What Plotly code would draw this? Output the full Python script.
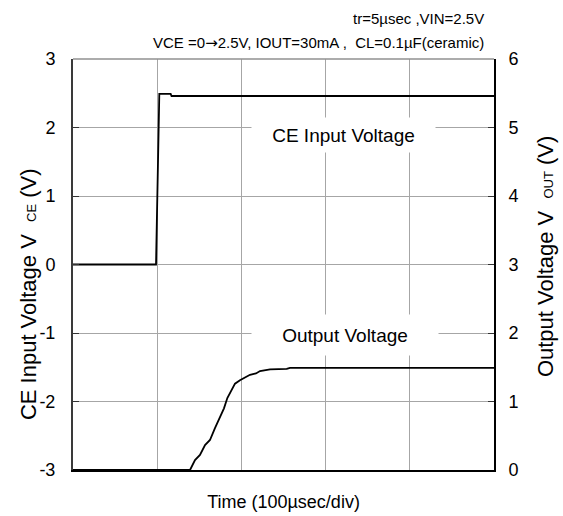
import plotly.graph_objects as go

# Time axis in microseconds (100 usec/div, 5 divisions)
ce_time = [0, 98.6, 102.5, 116, 117, 500]
ce_volt = [0, 0, 2.49, 2.49, 2.46, 2.46]

out_time = [0, 139, 144.9, 150.8, 156.8, 162.7, 168.6, 174.6, 179.3, 183.3, 188.5,
            192.4, 198.3, 204.3, 210.2, 217.3, 222.1, 234, 253.8, 257.7, 500]
out_volt = [0, 0, 0.146, 0.219, 0.365, 0.438, 0.61, 0.78, 0.90, 1.05, 1.17,
            1.26, 1.31, 1.35, 1.39, 1.41, 1.445, 1.47, 1.475, 1.49, 1.49]

x_grid = [100, 200, 300, 400]
left_ticks = [-3, -2, -1, 0, 1, 2, 3]
left_labels = ["-3", "-2", "-1", "0", "1", "2", "3"]
right_ticks = [0, 1, 2, 3, 4, 5, 6]
right_labels = ["0", "1", "2", "3", "4", "5", "6"]

FONT = "Liberation Sans, Arial, sans-serif"
GRID = "#a6a6a6"

fig = go.Figure()
fig.add_trace(go.Scatter(x=ce_time, y=ce_volt, mode="lines",
                         line=dict(color="black", width=1.8), yaxis="y", showlegend=False))
fig.add_trace(go.Scatter(x=out_time, y=out_volt, mode="lines",
                         line=dict(color="black", width=1.8), yaxis="y2", showlegend=False))

fig.update_layout(
    width=563, height=516,
    margin=dict(l=73, r=69, t=59, b=46, autoexpand=False),
    paper_bgcolor="white", plot_bgcolor="white",
    font=dict(family=FONT, color="black", size=16),
    xaxis=dict(range=[0, 500], tickvals=x_grid, showticklabels=False, ticks="",
               showgrid=True, gridcolor=GRID, gridwidth=1, zeroline=False,
               showline=True, linecolor="black", linewidth=2, automargin=False,
               title=dict(text="Time (100µsec/div)", font=dict(size=18), standoff=24)),
    yaxis=dict(range=[-3, 3], tickvals=left_ticks, ticktext=left_labels, ticks="inside",
               ticklen=6, tickcolor="#333", showgrid=True, gridcolor=GRID, gridwidth=1,
               zeroline=False, showline=True, linecolor="#3a3a3a", linewidth=2,
               tickfont=dict(size=18), ticklabelstandoff=12, automargin=False),
    yaxis2=dict(range=[0, 6], tickvals=right_ticks, ticktext=right_labels, ticks="inside",
                ticklen=6, tickcolor="#333", overlaying="y", side="right", showgrid=False,
                zeroline=False, showline=True, linecolor="black", linewidth=2,
                tickfont=dict(size=18), ticklabelstandoff=9, automargin=False),
    shapes=[dict(type="line", xref="paper", yref="paper", x0=0, x1=1, y0=1, y1=1,
                 line=dict(color="#909090", width=1.5))],
    annotations=[
        dict(text="tr=5µsec ,VIN=2.5V", xref="paper", yref="paper", x=0.98, y=1.0,
             yshift=41, xanchor="right", yanchor="middle", showarrow=False,
             font=dict(size=15)),
        dict(text="VCE =0<span style='font-family:DejaVu Sans'>→</span>2.5V, IOUT=30mA ,  CL=0.1µF(ceramic)",
             xref="paper", yref="paper",
             x=0.98, y=1.0, yshift=16, xanchor="right", yanchor="middle", showarrow=False,
             font=dict(size=15)),
        dict(text="CE Input Voltage V&nbsp;&nbsp;<span style='font-size:13px'>CE</span>&nbsp;(V)",
             xref="paper", yref="paper", x=0, xshift=-45, y=0.428, textangle=-90,
             xanchor="center", yanchor="middle", showarrow=False, font=dict(size=22)),
        dict(text="Output Voltage V&nbsp;&nbsp;<span style='font-size:13px'>OUT</span>&nbsp;(V)",
             xref="paper", yref="paper", x=1, xshift=51, y=0.518, textangle=-90,
             xanchor="center", yanchor="middle", showarrow=False, font=dict(size=22)),
        dict(text="CE Input Voltage", xref="paper", yref="paper", x=0.6425, y=0.815,
             xanchor="center", yanchor="middle", showarrow=False, bgcolor="white",
             width=183, height=34, borderpad=0, font=dict(size=19)),
        dict(text="Output Voltage", xref="paper", yref="paper", x=0.646, y=0.328,
             xanchor="center", yanchor="middle", showarrow=False, bgcolor="white",
             width=186, height=40, borderpad=0, font=dict(size=19)),
    ],
)

fig.write_html("out.html", config={"displayModeBar": False},
               post_script="document.body.style.margin='0px';")
